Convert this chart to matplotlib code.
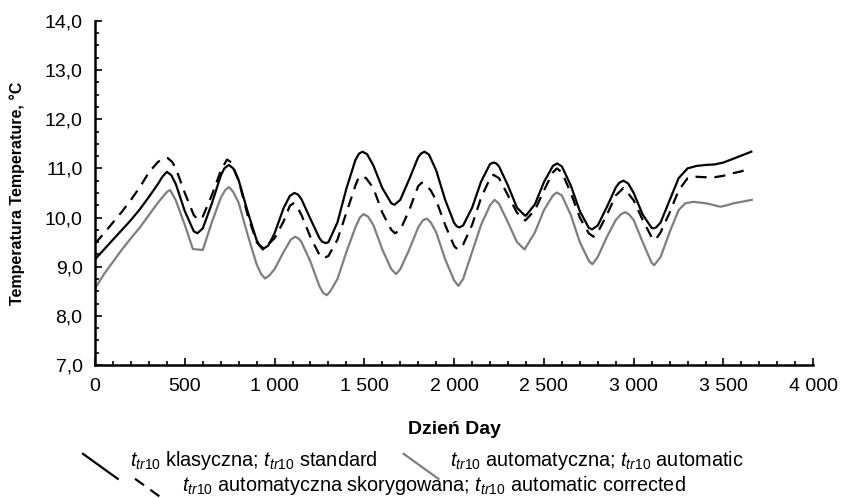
import numpy as np
import matplotlib.pyplot as plt
from matplotlib.legend_handler import HandlerLine2D
from matplotlib.lines import Line2D
from matplotlib.ticker import MultipleLocator, FuncFormatter

plt.rcParams['font.family'] = ['Liberation Sans', 'DejaVu Sans']
plt.rcParams['mathtext.fontset'] = 'custom'
plt.rcParams['mathtext.rm'] = 'Liberation Sans'
plt.rcParams['mathtext.it'] = 'Liberation Sans:italic'

# t_tr10 klasyczna (standard) - solid black
day_std = [0, 50, 100, 150, 200, 250, 300, 350, 375, 400, 425, 450, 500, 550, 570, 600, 650, 700,
           720, 745, 770, 800, 850, 900, 915, 940, 965, 1000, 1050, 1085, 1110, 1130, 1150, 1200,
           1250, 1265, 1285, 1300, 1350, 1400, 1450, 1470, 1490, 1515, 1550, 1600, 1650, 1668,
           1700, 1750, 1800, 1815, 1835, 1860, 1900, 1950, 2000, 2015, 2030, 2050, 2100, 2150,
           2200, 2220, 2235, 2250, 2300, 2350, 2394, 2400, 2450, 2500, 2550, 2574, 2600, 2650,
           2700, 2750, 2768, 2800, 2850, 2900, 2920, 2943, 2970, 3000, 3050, 3100, 3111, 3125,
           3150, 3200, 3250, 3300, 3350, 3400, 3450, 3500, 3550, 3600, 3655]
t_std = [9.15, 9.35, 9.55, 9.75, 9.95, 10.17, 10.42, 10.68, 10.83, 10.93, 10.86, 10.68, 10.13,
         9.72, 9.68, 9.78, 10.28, 10.85, 11.00, 11.07, 11.00, 10.76, 10.12, 9.54, 9.44, 9.37,
         9.43, 9.68, 10.19, 10.44, 10.50, 10.47, 10.37, 9.97, 9.58, 9.51, 9.48, 9.50, 9.90,
         10.59, 11.17, 11.30, 11.34, 11.29, 11.06, 10.60, 10.29, 10.26, 10.36, 10.78, 11.23,
         11.30, 11.34, 11.28, 10.96, 10.36, 9.89, 9.82, 9.80, 9.84, 10.20, 10.73, 11.09, 11.12,
         11.10, 11.04, 10.65, 10.20, 10.04, 10.04, 10.27, 10.72, 11.05, 11.10, 11.04, 10.65,
         10.13, 9.79, 9.76, 9.84, 10.21, 10.61, 10.71, 10.75, 10.69, 10.50, 10.06, 9.79, 9.78,
         9.80, 9.90, 10.35, 10.80, 11.00, 11.05, 11.07, 11.08, 11.12, 11.19, 11.26, 11.34]

# t_tr10 automatyczna skorygowana (automatic corrected) - dashed black
day_cor = [0, 50, 100, 150, 200, 250, 300, 350, 380, 405, 430, 450, 500, 550, 576, 600, 650, 700,
           735, 760, 800, 850, 900, 935, 1000, 1050, 1085, 1105, 1125, 1150, 1200, 1250, 1272,
           1300, 1350, 1400, 1450, 1465, 1486, 1510, 1550, 1600, 1650, 1671, 1700, 1750, 1780,
           1800, 1820, 1845, 1870, 1900, 1950, 2000, 2020, 2050, 2100, 2150, 2200, 2219, 2250,
           2300, 2350, 2396, 2450, 2500, 2550, 2572, 2600, 2650, 2700, 2750, 2776, 2800, 2850,
           2900, 2943, 2950, 3000, 3050, 3100, 3120, 3150, 3200, 3250, 3300, 3350, 3400, 3450,
           3500, 3550, 3600, 3640]
t_cor = [9.47, 9.68, 9.90, 10.12, 10.36, 10.62, 10.92, 11.13, 11.20, 11.21, 11.13, 11.00, 10.50,
         10.05, 9.95, 10.02, 10.45, 10.95, 11.18, 11.12, 10.75, 10.05, 9.50, 9.35, 9.58, 9.92,
         10.24, 10.29, 10.22, 10.05, 9.60, 9.24, 9.17, 9.22, 9.55, 10.10, 10.65, 10.79, 10.85,
         10.80, 10.60, 10.10, 9.75, 9.68, 9.75, 10.15, 10.45, 10.64, 10.71, 10.66, 10.55, 10.35,
         9.85, 9.42, 9.35, 9.45, 9.85, 10.40, 10.80, 10.87, 10.80, 10.45, 10.10, 9.94, 10.15,
         10.55, 10.92, 11.00, 10.92, 10.50, 10.00, 9.68, 9.61, 9.70, 10.05, 10.45, 10.60, 10.58,
         10.35, 9.95, 9.60, 9.54, 9.70, 10.10, 10.55, 10.80, 10.83, 10.82, 10.82, 10.85, 10.90,
         10.94, 11.00]

# t_tr10 automatyczna (automatic) - grey
day_aut = [0, 50, 100, 150, 200, 250, 300, 350, 400, 418, 450, 500, 545, 600, 650, 700, 725, 746,
           770, 800, 850, 900, 925, 947, 970, 1000, 1050, 1090, 1114, 1135, 1150, 1200, 1250,
           1270, 1291, 1310, 1350, 1400, 1450, 1475, 1495, 1520, 1550, 1600, 1650, 1677, 1700,
           1750, 1800, 1825, 1848, 1870, 1900, 1950, 2000, 2024, 2050, 2100, 2150, 2200, 2225,
           2250, 2300, 2350, 2392, 2450, 2500, 2550, 2572, 2600, 2650, 2700, 2750, 2770, 2800,
           2850, 2900, 2930, 2953, 2975, 3000, 3050, 3100, 3114, 3150, 3200, 3250, 3287, 3333,
           3380, 3417, 3482, 3520, 3556, 3600, 3658]
t_aut = [8.56, 8.85, 9.10, 9.35, 9.58, 9.80, 10.05, 10.30, 10.52, 10.56, 10.35, 9.85, 9.36,
         9.34, 9.90, 10.40, 10.56, 10.62, 10.52, 10.30, 9.65, 9.05, 8.85, 8.76, 8.82, 8.95, 9.30,
         9.55, 9.61, 9.57, 9.50, 9.10, 8.60, 8.47, 8.42, 8.50, 8.75, 9.30, 9.80, 10.00, 10.07,
         10.02, 9.85, 9.35, 8.95, 8.85, 8.95, 9.35, 9.80, 9.94, 9.98, 9.90, 9.70, 9.15, 8.72,
         8.61, 8.75, 9.30, 9.85, 10.25, 10.36, 10.28, 9.90, 9.50, 9.35, 9.70, 10.15, 10.45,
         10.51, 10.45, 10.05, 9.50, 9.12, 9.05, 9.20, 9.60, 9.95, 10.07, 10.11, 10.06, 9.95,
         9.50, 9.08, 9.03, 9.20, 9.70, 10.15, 10.29, 10.32, 10.30, 10.28, 10.22, 10.25, 10.29,
         10.32, 10.36]

lab_std = r'$t_{tr10}$ klasyczna; $t_{tr10}$ standard'
lab_aut = r'$t_{tr10}$ automatyczna; $t_{tr10}$ automatic'
lab_cor = r'$t_{tr10}$ automatyczna skorygowana; $t_{tr10}$ automatic corrected'


class DiagonalHandler(HandlerLine2D):
    # Excel-style legend key: a short line falling to the right
    def create_artists(self, legend, orig_handle, xdescent, ydescent, width, height,
                       fontsize, trans):
        line = Line2D([0, width], [height * 0.85, -height * 0.95])
        self.update_prop(line, orig_handle, legend)
        line.set_transform(trans)
        return [line]


fig = plt.figure(figsize=(8.41, 4.98), dpi=100)
ax = fig.add_axes([0.113, 0.267, 0.854, 0.691])

l_std, = ax.plot(day_std, t_std, color='black', lw=1.6, label=lab_std)
l_cor, = ax.plot(day_cor, t_cor, color='black', lw=1.6, ls=(0, (5, 3.5)), label=lab_cor)
l_aut, = ax.plot(day_aut, t_aut, color='#7f7f7f', lw=1.6, label=lab_aut)

ax.set_xlim(0, 4000)
ax.set_ylim(7, 14)
ax.xaxis.set_major_locator(MultipleLocator(500))
ax.xaxis.set_minor_locator(MultipleLocator(100))
ax.yaxis.set_major_locator(MultipleLocator(1))
ax.yaxis.set_minor_locator(MultipleLocator(0.25))
ax.xaxis.set_major_formatter(FuncFormatter(lambda v, p: f'{int(v):,}'.replace(',', ' ')))
ax.yaxis.set_major_formatter(FuncFormatter(lambda v, p: f'{v:.1f}'.replace('.', ',')))

for s in ['top', 'right']:
    ax.spines[s].set_visible(False)
for s in ['left', 'bottom']:
    ax.spines[s].set_linewidth(1.8)
ax.tick_params(which='both', direction='in', labelsize=14, width=1.2)
ax.tick_params(which='major', length=5, pad=9)
ax.tick_params(which='minor', length=3)

ax.set_xlabel('Dzień Day', fontsize=14, fontweight='bold', labelpad=19)
ax.set_ylabel('Temperatura Temperature, °C', fontsize=11.5, fontweight='bold', labelpad=14)

hmap = {Line2D: DiagonalHandler()}
leg_kw = dict(frameon=False, fontsize=14.3, handler_map=hmap, handlelength=1.75,
              handletextpad=0.6, borderaxespad=0, borderpad=0, loc='center left')
fig.legend(handles=[l_std], bbox_to_anchor=(0.0987, 0.076), **leg_kw)
fig.legend(handles=[l_aut], bbox_to_anchor=(0.480, 0.076), **leg_kw)
fig.legend(handles=[l_cor], bbox_to_anchor=(0.1605, 0.026), **leg_kw)

fig.savefig('out.png', dpi=100)
plt.close(fig)
